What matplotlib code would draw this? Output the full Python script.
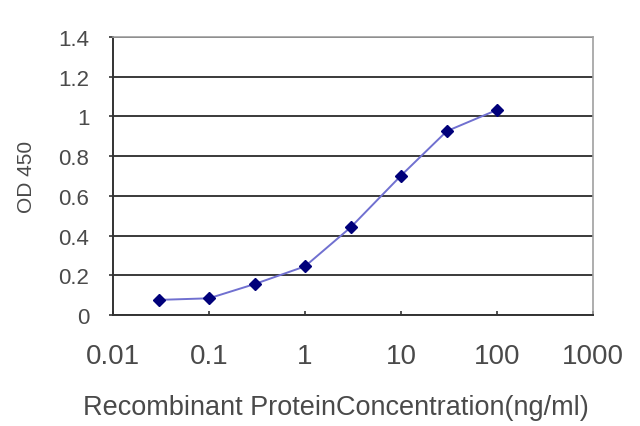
import matplotlib
matplotlib.use("Agg")
import matplotlib.pyplot as plt
from matplotlib.ticker import FixedLocator, FixedFormatter, NullLocator

# concentration (ng/ml) and OD450 readings
conc = [0.03, 0.1, 0.3, 1, 3, 10, 30, 100]
od450 = [0.076, 0.084, 0.156, 0.245, 0.442, 0.702, 0.926, 1.033]

x_ticks = [0.01, 0.1, 1, 10, 100, 1000]
x_labels = ["0.01", "0.1", "1", "10", "100", "1000"]
y_ticks = [0, 0.2, 0.4, 0.6, 0.8, 1.0, 1.2, 1.4]
y_labels = ["0", "0.2", "0.4", "0.6", "0.8", "1", "1.2", "1.4"]

plt.rcParams['font.family'] = ['Liberation Sans', 'DejaVu Sans']

fig = plt.figure(figsize=(6.4, 4.27), dpi=100)
ax = fig.add_axes([0.1766, 0.26, 0.75, 0.651])

ax.plot(conc, od450, color="#7070d0", lw=1.4, marker="D", markersize=6.5,
        markerfacecolor="#00007a", markeredgecolor="#00007a", zorder=3)

ax.set_xscale("log")
ax.set_xlim(0.01, 1000)
ax.set_ylim(0, 1.4)
ax.xaxis.set_major_locator(FixedLocator(x_ticks))
ax.xaxis.set_major_formatter(FixedFormatter(x_labels))
ax.xaxis.set_minor_locator(NullLocator())
ax.set_yticks(y_ticks)
ax.set_yticklabels(y_labels)

ax.yaxis.grid(True, color="#3a3a3a", lw=1.4)
ax.set_axisbelow(True)

for side in ["left", "bottom"]:
    ax.spines[side].set_color("#333333")
    ax.spines[side].set_linewidth(1.4)
for side in ["top", "right"]:
    ax.spines[side].set_color("#a0a0a0")
    ax.spines[side].set_linewidth(1.2)

ax.tick_params(axis="x", direction="in", length=3, width=1.2, colors="#333333",
               labelsize=20, labelcolor="#4a4a4a", pad=20)
ax.tick_params(axis="y", direction="out", length=3, width=1.2, colors="#333333",
               labelsize=16, labelcolor="#4a4a4a", pad=14)

fig.text(336 / 640, 1 - 408 / 427, "Recombinant ProteinConcentration(ng/ml)",
         fontsize=19.5, color="#4a4a4a", ha="center", va="center")
fig.text(27 / 640, 1 - 177 / 427, "OD 450", fontsize=15, color="#4a4a4a",
         rotation=90, ha="center", va="center")

fig.savefig("out.png", dpi=100)
